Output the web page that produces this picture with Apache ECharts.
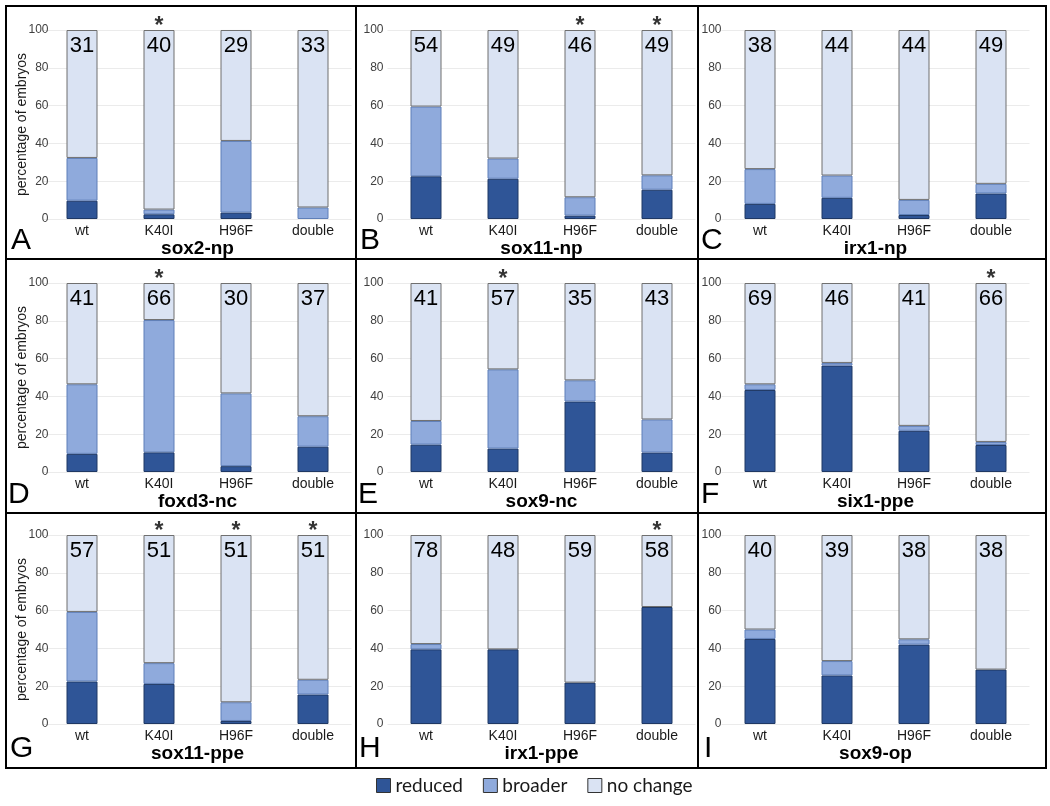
<!DOCTYPE html>
<html>
<head>
<meta charset="utf-8">
<script src="https://cdn.jsdelivr.net/npm/echarts@6/dist/echarts.min.js"></script>
<style>
html,body{margin:0;padding:0;background:#fff;}
#chart{width:1050px;height:806px;}
</style>
</head>
<body>
<div id="chart"></div>
<script>
const categories = ['wt', 'K40I', 'H96F', 'double'];
const panelTitles = ['sox2-np', 'sox11-np', 'irx1-np', 'foxd3-nc', 'sox9-nc', 'six1-ppe', 'sox11-ppe', 'irx1-ppe', 'sox9-op'];
const panelLetters = ['A', 'B', 'C', 'D', 'E', 'F', 'G', 'H', 'I'];
const yTicks = [0, 20, 40, 60, 80, 100];

const reduced = [
  [9.7, 2.5, 3.4, 0],
  [22.6, 21.3, 1.8, 15.5],
  [8.0, 11.2, 2.1, 13.5],
  [9.6, 10.4, 3.1, 13.4],
  [14.5, 12.4, 37.3, 10.3],
  [43.4, 56.3, 21.8, 14.3],
  [22.5, 21.2, 1.6, 15.6],
  [39.5, 39.5, 21.9, 61.9],
  [45.0, 25.7, 42.0, 28.8]
];
const broader = [
  [22.6, 2.5, 37.9, 6.1],
  [36.9, 10.7, 9.7, 7.6],
  [18.4, 11.8, 8.0, 5.1],
  [36.8, 70.0, 38.5, 16.1],
  [12.5, 41.9, 11.2, 17.5],
  [3.0, 1.4, 2.6, 1.6],
  [36.8, 11.0, 9.9, 7.8],
  [2.8, 0, 0, 0],
  [5.0, 7.6, 2.8, 0]
];
const noChange = [
  [67.7, 95.0, 58.7, 93.9],
  [40.5, 68.0, 88.5, 76.9],
  [73.6, 77.0, 89.9, 81.4],
  [53.6, 19.6, 58.4, 70.5],
  [73.0, 45.7, 51.5, 72.2],
  [53.6, 42.3, 75.6, 84.1],
  [40.7, 67.8, 88.5, 76.6],
  [57.7, 60.5, 78.1, 38.1],
  [50.0, 66.7, 55.2, 71.2]
];
const counts = [
  [31, 40, 29, 33],
  [54, 49, 46, 49],
  [38, 44, 44, 49],
  [41, 66, 30, 37],
  [41, 57, 35, 43],
  [69, 46, 41, 66],
  [57, 51, 51, 51],
  [78, 48, 59, 58],
  [40, 39, 38, 38]
];
const significant = [
  [0, 1, 0, 0],
  [0, 0, 1, 1],
  [0, 0, 0, 0],
  [0, 1, 0, 0],
  [0, 1, 0, 0],
  [0, 0, 0, 1],
  [0, 1, 1, 1],
  [0, 0, 0, 1],
  [0, 0, 0, 0]
];

// layout
const colLeft = [43.5, 387.5, 721.5];
const colWidth = 308;
const rowTop = [30, 283, 535];
const rowHeight = 189;
const yLabelMargin = [-5, 4, 0];
const letterPos = [[11, 226], [360, 226], [701, 226], [8, 480], [358, 480], [701, 480], [10, 734], [359, 734], [704, 734]];

const FONT = '"Liberation Sans", Arial, sans-serif';
const COLORS = { reduced: '#2F5597', broader: '#8FAADC', noChange: '#DAE3F3' };

const grids = [], xAxes = [], yAxes = [], series = [];
for (let p = 0; p < 9; p++) {
  const col = p % 3, row = Math.floor(p / 3);
  grids.push({ left: colLeft[col], top: rowTop[row], width: colWidth, height: rowHeight });
  xAxes.push({
    type: 'category', gridIndex: p, data: categories,
    axisLine: { show: false }, axisTick: { show: false },
    axisLabel: { fontSize: 14, color: '#1a1a1a', margin: 5, fontFamily: FONT },
    name: panelTitles[p], nameLocation: 'middle', nameGap: 20, nameMoveOverlap: false,
    nameTextStyle: { fontSize: 19, fontWeight: 'bold', color: '#000', fontFamily: FONT }
  });
  yAxes.push({
    type: 'value', gridIndex: p, min: 0, max: 100, interval: 20,
    axisLine: { show: false }, axisTick: { show: false },
    axisLabel: { fontSize: 12, color: '#404040', margin: yLabelMargin[col], fontFamily: FONT,
      formatter: v => yTicks.includes(v) ? String(v) : '' },
    splitLine: { lineStyle: { color: '#ebebeb', width: 1 } },
    name: col === 0 ? 'percentage of embryos' : '', nameLocation: 'middle', nameGap: 14, nameMoveOverlap: false,
    nameTextStyle: { fontSize: 14, color: '#1a1a1a', fontFamily: FONT }
  });
  const stack = 'p' + p;
  series.push({
    name: 'reduced', type: 'bar', stack, xAxisIndex: p, yAxisIndex: p, barWidth: 31,
    data: reduced[p].map(v => v === 0 ? '-' : v),
    itemStyle: { color: COLORS.reduced, borderColor: '#1F3864', borderWidth: 1 },
    emphasis: { disabled: true }
  });
  series.push({
    name: 'broader', type: 'bar', stack, xAxisIndex: p, yAxisIndex: p, barWidth: 31,
    data: broader[p].map(v => v === 0 ? '-' : v),
    itemStyle: { color: COLORS.broader, borderColor: '#5f7fb8', borderWidth: 1 },
    emphasis: { disabled: true }
  });
  series.push({
    name: 'no change', type: 'bar', stack, xAxisIndex: p, yAxisIndex: p, barWidth: 31,
    data: noChange[p],
    itemStyle: { color: COLORS.noChange, borderColor: '#6f6f6f', borderWidth: 1 },
    label: {
      show: true, position: 'insideTop', distance: 5, fontSize: 22, color: '#000', fontFamily: FONT,
      formatter: (d => params => String(counts[d][params.dataIndex]))(p)
    },
    emphasis: { disabled: true }
  });
  series.push({
    type: 'scatter', xAxisIndex: p, yAxisIndex: p, symbolSize: 0, silent: true,
    data: significant[p].map(s => s ? 100 : '-'),
    label: { show: true, position: 'top', distance: -8, formatter: '*', fontSize: 23, fontWeight: 'bold', color: '#000', fontFamily: FONT }
  });
}

const graphics = [];
// panel frame
graphics.push({ type: 'rect', shape: { x: 6, y: 6, width: 1040, height: 762 }, style: { fill: 'none', stroke: '#000', lineWidth: 2 }, z: 100 });
[356, 698].forEach(x => graphics.push({ type: 'line', shape: { x1: x, y1: 6, x2: x, y2: 768 }, style: { stroke: '#000', lineWidth: 2 }, z: 100 }));
[259, 513].forEach(y => graphics.push({ type: 'line', shape: { x1: 6, y1: y, x2: 1046, y2: y }, style: { stroke: '#000', lineWidth: 2 }, z: 100 }));
panelLetters.forEach((t, i) => graphics.push({
  type: 'text', left: letterPos[i][0], top: letterPos[i][1], z: 100,
  style: { text: t, fontSize: 30, fill: '#000', fontFamily: FONT }
}));

const chart = echarts.init(document.getElementById('chart'), null, { renderer: 'canvas' });
chart.setOption({
  animation: false,
  backgroundColor: '#fff',
  grid: grids, xAxis: xAxes, yAxis: yAxes, series,
  legend: {
    data: ['reduced', 'broader', 'no change'],
    bottom: 6, left: 371, itemWidth: 14, itemHeight: 14, itemGap: 20, icon: 'rect',
    selectedMode: false,
    itemStyle: { borderColor: '#333', borderWidth: 1 },
    textStyle: { fontSize: 19, color: '#1a1a1a', fontFamily: 'Lato, "Open Sans", sans-serif' }
  },
  graphic: graphics
});
</script>
</body>
</html>
